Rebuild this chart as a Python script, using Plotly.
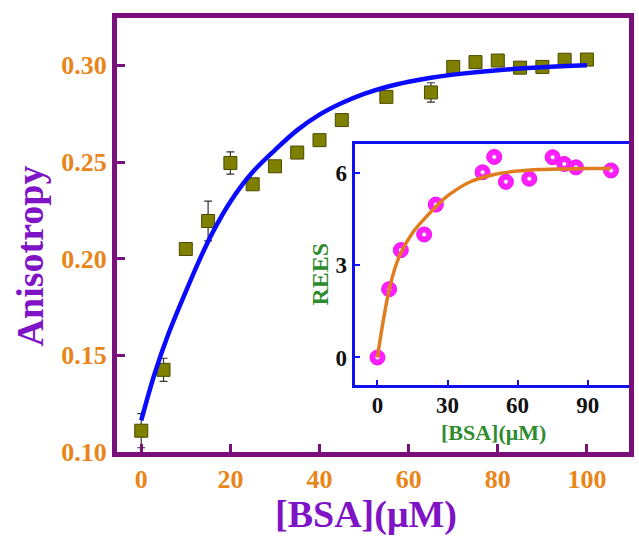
import plotly.graph_objects as go

# ---------------- data ----------------
bsa_conc = [0, 5, 10, 15, 20, 25, 30, 35, 40, 45, 55, 65, 70, 75, 80, 85, 90, 95, 100]
anisotropy = [0.111, 0.1425, 0.205, 0.2195, 0.2495, 0.2385, 0.2478, 0.2549, 0.2613,
              0.2717, 0.2837, 0.286, 0.2992, 0.3017, 0.3025, 0.2988, 0.2992, 0.3029, 0.303]
anisotropy_err = [0.0088, 0.006, 0.002, 0.0103, 0.0058, 0.002, 0.002, 0.002, 0.002,
                  0.002, 0.002, 0.005, 0.002, 0.002, 0.002, 0.002, 0.002, 0.002, 0.002]

fit_conc = [0, 3, 6, 10, 13, 16, 20, 25, 30, 35, 40, 45, 50, 55, 60, 65, 70, 80, 90, 100]
fit_anisotropy = [0.1164, 0.1405, 0.1605, 0.183, 0.199, 0.2135, 0.2295, 0.2448, 0.2562,
                  0.2665, 0.2745, 0.2805, 0.2852, 0.2888, 0.2915, 0.2936, 0.2952,
                  0.2975, 0.2990, 0.3000]

inset_conc = [0, 5, 10, 20, 25, 45, 50, 55, 65, 75, 80, 85, 100]
rees = [0, 2.22, 3.49, 4.0, 4.97, 6.02, 6.52, 5.71, 5.81, 6.51, 6.29, 6.18, 6.08]

inset_fit_conc = [0, 2.5, 5, 7.5, 10, 15, 20, 25, 30, 40, 50, 60, 70, 80, 90, 100]
inset_fit_rees = [0, 1.2, 2.2, 2.9, 3.4, 4.05, 4.5, 4.9, 5.25, 5.72, 5.95, 6.06, 6.11,
                  6.13, 6.14, 6.14]

main_xticks = [0, 20, 40, 60, 80, 100]
main_yticks = [0.10, 0.15, 0.20, 0.25, 0.30]
inset_xticks = [0, 30, 60, 90]
inset_yticks = [0, 3, 6]

# ---------------- styles ----------------
PURPLE_LINE = "#7A0E7A"
TITLE_PURPLE = "#7E14C6"
ORANGE = "#E8861A"
GREEN = "#2E8B2E"
BLUE = "#1010F0"
SERIF = "Liberation Serif"

fig = go.Figure()

fig.add_trace(go.Scatter(
    x=bsa_conc, y=anisotropy, mode="markers",
    marker=dict(symbol="square", size=13, color="#7F7F00",
                line=dict(color="#4A4A00", width=1)),
    error_y=dict(type="data", array=anisotropy_err, visible=True,
                 color="#333333", thickness=1.2, width=4),
    xaxis="x", yaxis="y", showlegend=False))

fig.add_trace(go.Scatter(
    x=fit_conc, y=fit_anisotropy, mode="lines",
    line=dict(color="#0A0AFF", width=4.5, shape="spline"),
    xaxis="x", yaxis="y", showlegend=False))

fig.add_trace(go.Scatter(
    x=inset_conc, y=rees, mode="markers",
    marker=dict(symbol="circle", size=15, color="#FF1EFF",
                line=dict(color="#F010F0", width=1)),
    xaxis="x2", yaxis="y2", showlegend=False))

fig.add_trace(go.Scatter(
    x=inset_conc, y=rees, mode="markers",
    marker=dict(symbol="circle", size=4, color="#FFFFFF",
                line=dict(color="#C8A0C8", width=0.5)),
    xaxis="x2", yaxis="y2", showlegend=False, hoverinfo="skip"))

fig.add_trace(go.Scatter(
    x=inset_fit_conc, y=inset_fit_rees, mode="lines",
    line=dict(color="#E07D1E", width=3.5, shape="spline"),
    xaxis="x2", yaxis="y2", showlegend=False))

tick_font_main = dict(family=SERIF, size=26, color=ORANGE, weight="bold")
tick_font_inset = dict(family=SERIF, size=23, color="#111111", weight="bold")

fig.update_layout(
    width=639, height=536,
    margin=dict(l=117, r=5, t=18, b=84),
    paper_bgcolor="white", plot_bgcolor="white",
    xaxis=dict(domain=[0, 1], range=[-5.44, 109.44], tickvals=main_xticks,
               ticks="inside", ticklen=8, tickwidth=3, tickcolor=PURPLE_LINE,
               showline=True, linewidth=5, linecolor=PURPLE_LINE, mirror=True,
               showgrid=False, zeroline=False, tickfont=tick_font_main),
    yaxis=dict(domain=[0, 1], range=[0.10, 0.3245], tickvals=main_yticks,
               tickformat=".2f",
               ticks="inside", ticklen=8, tickwidth=3, tickcolor=PURPLE_LINE,
               showline=True, linewidth=5, linecolor=PURPLE_LINE, mirror=True,
               showgrid=False, zeroline=False, tickfont=tick_font_main),
    xaxis2=dict(domain=[0.4642, 1.0], anchor="y2", range=[-9.75, 107.7],
                tickvals=inset_xticks, ticks="inside", ticklen=5, tickwidth=2,
                tickcolor=BLUE, showline=True, linewidth=3,
                linecolor=BLUE, mirror=True, showgrid=False, zeroline=False,
                tickfont=tick_font_inset, ticklabelstandoff=-3),
    yaxis2=dict(domain=[0.154, 0.7097], anchor="x2", range=[-0.9, 6.94],
                tickvals=inset_yticks, ticks="inside", ticklen=5, tickwidth=2,
                tickcolor=BLUE, showline=True, linewidth=3,
                linecolor=BLUE, mirror=False, showgrid=False, zeroline=False,
                tickfont=tick_font_inset),
)

annotations = [
    dict(text="[BSA](μM)", x=0.4855, y=-0.1448, xref="paper", yref="paper",
         xanchor="center", yanchor="middle", showarrow=False,
         font=dict(family=SERIF, size=38, color=TITLE_PURPLE, weight="bold")),
    dict(text="Anisotropy", x=-0.170, y=0.4529, xref="paper", yref="paper",
         xanchor="center", yanchor="middle", showarrow=False, textangle=-90,
         font=dict(family=SERIF, size=38, color=TITLE_PURPLE, weight="bold")),
    dict(text="REES", x=0.3965, y=0.409, xref="paper", yref="paper",
         xanchor="center", yanchor="middle", showarrow=False, textangle=-90,
         font=dict(family=SERIF, size=24, color=GREEN, weight="bold")),
    dict(text="[BSA](μM)", x=0.735, y=0.044, xref="paper", yref="paper",
         xanchor="center", yanchor="middle", showarrow=False,
         font=dict(family=SERIF, size=22, color=GREEN, weight="bold")),
]
fig.update_layout(annotations=annotations)

fig.write_html("out.html")
